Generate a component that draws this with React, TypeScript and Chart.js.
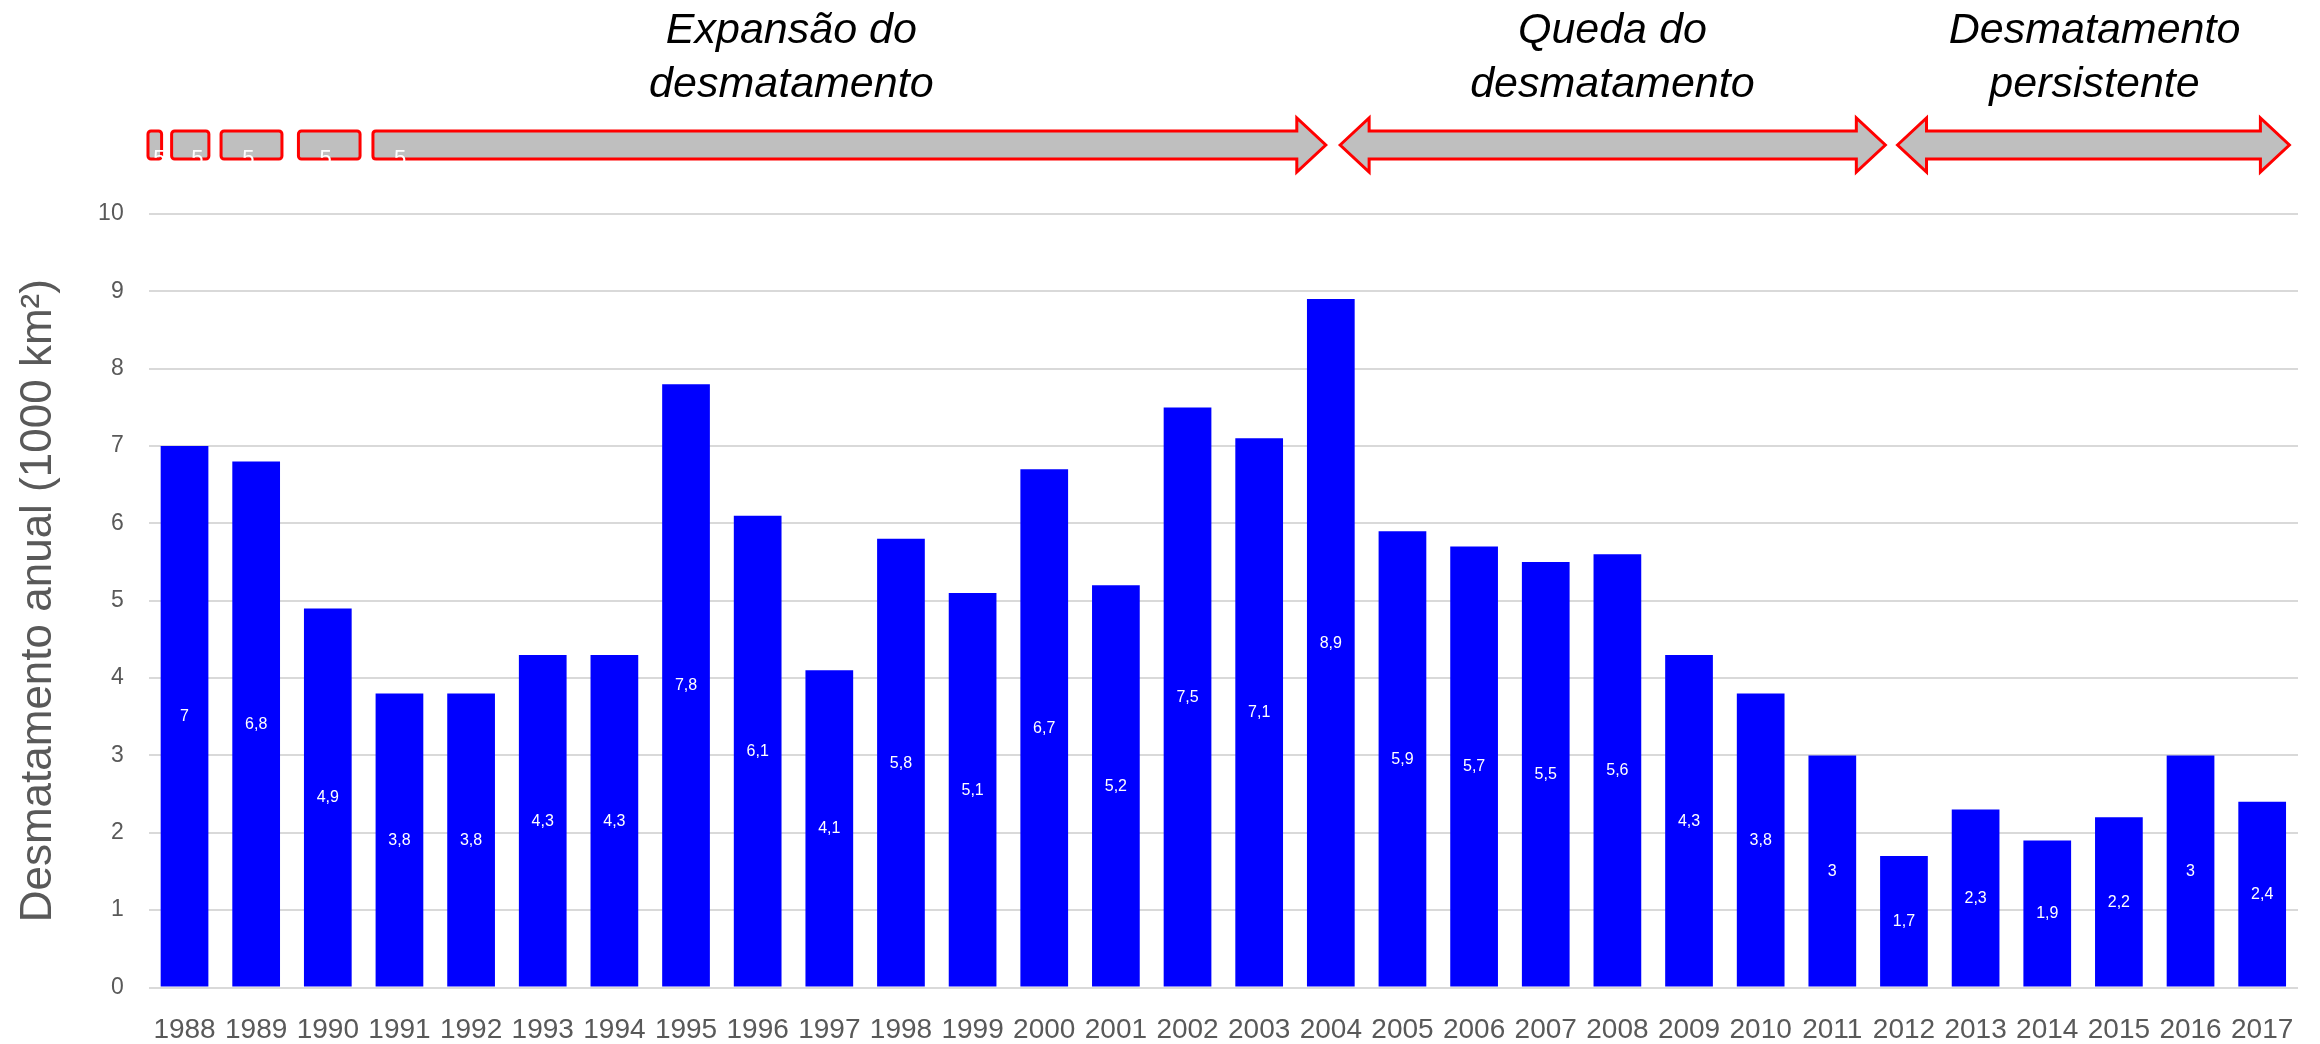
import React, { useEffect, useRef } from "react";
import { Chart, registerables } from "chart.js";

Chart.register(...registerables);

// ---- data ----
const years = [
  "1988", "1989", "1990", "1991", "1992", "1993", "1994", "1995", "1996", "1997",
  "1998", "1999", "2000", "2001", "2002", "2003", "2004", "2005", "2006", "2007",
  "2008", "2009", "2010", "2011", "2012", "2013", "2014", "2015", "2016", "2017",
];
const deforestation = [
  7, 6.8, 4.9, 3.8, 3.8, 4.3, 4.3, 7.8, 6.1, 4.1,
  5.8, 5.1, 6.7, 5.2, 7.5, 7.1, 8.9, 5.9, 5.7, 5.5,
  5.6, 4.3, 3.8, 3, 1.7, 2.3, 1.9, 2.2, 3, 2.4,
];
const yTickValues = [0, 1, 2, 3, 4, 5, 6, 7, 8, 9, 10];
const yAxisTitle = "Desmatamento anual (1000 km²)";
const periodTitles = [
  ["Expansão do", "desmatamento"],
  ["Queda do", "desmatamento"],
  ["Desmatamento", "persistente"],
];
const stubLabels = ["5", "5", "5", "5", "5"];

// ---- annotation geometry (in category units on the x scale) ----
const ARROWS = [
  { from: 2.63, to: 15.93, leftHead: false, rightHead: true },
  { from: 16.13, to: 23.74, leftHead: true, rightHead: true },
  { from: 23.91, to: 29.38, leftHead: true, rightHead: true },
];
const STUBS = [
  [-0.51, -0.32],
  [-0.18, 0.34],
  [0.51, 1.36],
  [1.59, 2.45],
];
const STUB_LABEL_AT = [-0.35, 0.18, 0.89, 1.97, 3.01];
const TITLE_AT = [8.47, 19.93, 26.66];

const FONT = "'Liberation Sans', Arial, sans-serif";
const GRAY_TEXT = "#595959";

const annotationPlugin = {
  id: "periodArrows",
  afterDraw(chart: any) {
    const ctx = chart.ctx;
    const xs = chart.scales.x;
    const px = (v: number) => xs.getPixelForValue(v);
    const cy = 145;
    const bh = 14;
    const hh = 27;
    const hl = 29;

    ctx.save();
    ctx.lineWidth = 3;
    ctx.strokeStyle = "#FF0000";
    ctx.fillStyle = "#BFBFBF";
    ctx.lineJoin = "miter";

    // small stub boxes
    for (const [a, b] of STUBS) {
      const x1 = px(a);
      const x2 = px(b);
      ctx.beginPath();
      (ctx as any).roundRect(x1, cy - bh, x2 - x1, bh * 2, 3);
      ctx.fill();
      ctx.stroke();
    }

    // arrows
    for (const ar of ARROWS) {
      const x1 = px(ar.from);
      const x2 = px(ar.to);
      const xl = ar.leftHead ? x1 + hl : x1;
      const xr = ar.rightHead ? x2 - hl : x2;
      ctx.beginPath();
      if (ar.leftHead) {
        ctx.moveTo(x1, cy);
        ctx.lineTo(xl, cy - hh);
        ctx.lineTo(xl, cy - bh);
      } else {
        ctx.moveTo(x1, cy + bh - 3);
        ctx.lineTo(x1, cy - bh + 3);
        ctx.quadraticCurveTo(x1, cy - bh, x1 + 3, cy - bh);
      }
      ctx.lineTo(xr, cy - bh);
      if (ar.rightHead) {
        ctx.lineTo(xr, cy - hh);
        ctx.lineTo(x2, cy);
        ctx.lineTo(xr, cy + hh);
        ctx.lineTo(xr, cy + bh);
      } else {
        ctx.lineTo(x2, cy + bh);
      }
      if (ar.leftHead) {
        ctx.lineTo(xl, cy + bh);
        ctx.lineTo(xl, cy + hh);
        ctx.closePath();
      } else {
        ctx.lineTo(x1 + 3, cy + bh);
        ctx.quadraticCurveTo(x1, cy + bh, x1, cy + bh - 3);
        ctx.closePath();
      }
      ctx.fill();
      ctx.stroke();
    }

    // stub "5" labels (white, mostly hidden)
    ctx.fillStyle = "#FFFFFF";
    ctx.font = `22px ${FONT}`;
    ctx.textAlign = "center";
    ctx.textBaseline = "alphabetic";
    STUB_LABEL_AT.forEach((v, i) => {
      ctx.fillText(stubLabels[i], px(v), 165);
    });

    // period titles
    ctx.fillStyle = "#000000";
    ctx.font = `italic 43px ${FONT}`;
    TITLE_AT.forEach((v, i) => {
      const x = px(v);
      ctx.fillText(periodTitles[i][0], x, 43);
      ctx.fillText(periodTitles[i][1], x, 97);
    });
    ctx.restore();
  },
};

const barLabelPlugin = {
  id: "barLabels",
  afterDatasetsDraw(chart: any) {
    const ctx = chart.ctx;
    const ys = chart.scales.y;
    const meta = chart.getDatasetMeta(0);
    ctx.save();
    ctx.fillStyle = "#FFFFFF";
    ctx.font = `16px ${FONT}`;
    ctx.textAlign = "center";
    ctx.textBaseline = "middle";
    meta.data.forEach((bar: any, i: number) => {
      const v = deforestation[i];
      ctx.fillText(String(v).replace(".", ","), bar.x, ys.getPixelForValue(v / 2));
    });
    ctx.restore();
  },
};

export default function App() {
  const ref = useRef<HTMLCanvasElement | null>(null);

  useEffect(() => {
    if (!ref.current) return;
    const chart = new Chart(ref.current, {
      type: "bar",
      data: {
        labels: years,
        datasets: [
          {
            data: deforestation,
            backgroundColor: "#0000FF",
            borderWidth: 0,
            barPercentage: 0.666,
            categoryPercentage: 1,
          },
        ],
      },
      options: {
        responsive: false,
        animation: false,
        devicePixelRatio: 1,
        layout: { padding: { top: 214, right: 22, bottom: 0, left: 0 } },
        plugins: {
          legend: { display: false },
          tooltip: { enabled: false },
          title: { display: false },
        },
        scales: {
          x: {
            grid: { display: false, drawTicks: false },
            border: { display: false },
            ticks: {
              autoSkip: false,
              maxRotation: 0,
              minRotation: 0,
              padding: 26,
              color: GRAY_TEXT,
              font: { family: FONT, size: 28 },
            },
            afterFit: (s: any) => {
              s.height = 56.5;
            },
          },
          y: {
            min: 0,
            max: 10,
            afterBuildTicks: (s: any) => {
              s.ticks = yTickValues.map((v) => ({ value: v }));
            },
            grid: { color: "#D9D9D9", lineWidth: 2, drawTicks: false },
            border: { display: false },
            ticks: {
              padding: 25,
              color: GRAY_TEXT,
              font: { family: FONT, size: 23 },
            },
            title: {
              display: true,
              text: yAxisTitle,
              color: GRAY_TEXT,
              font: { family: FONT, size: 44 },
              padding: { top: 12, bottom: 0 },
            },
            afterFit: (s: any) => {
              s.width = 148.7;
            },
          },
        },
      },
      plugins: [barLabelPlugin, annotationPlugin],
    });
    return () => chart.destroy();
  }, []);

  return (
    <div style={{ position: "fixed", left: 0, top: 0, width: 2320, height: 1044, background: "#fff" }}>
      <canvas ref={ref} width={2320} height={1044} />
    </div>
  );
}
